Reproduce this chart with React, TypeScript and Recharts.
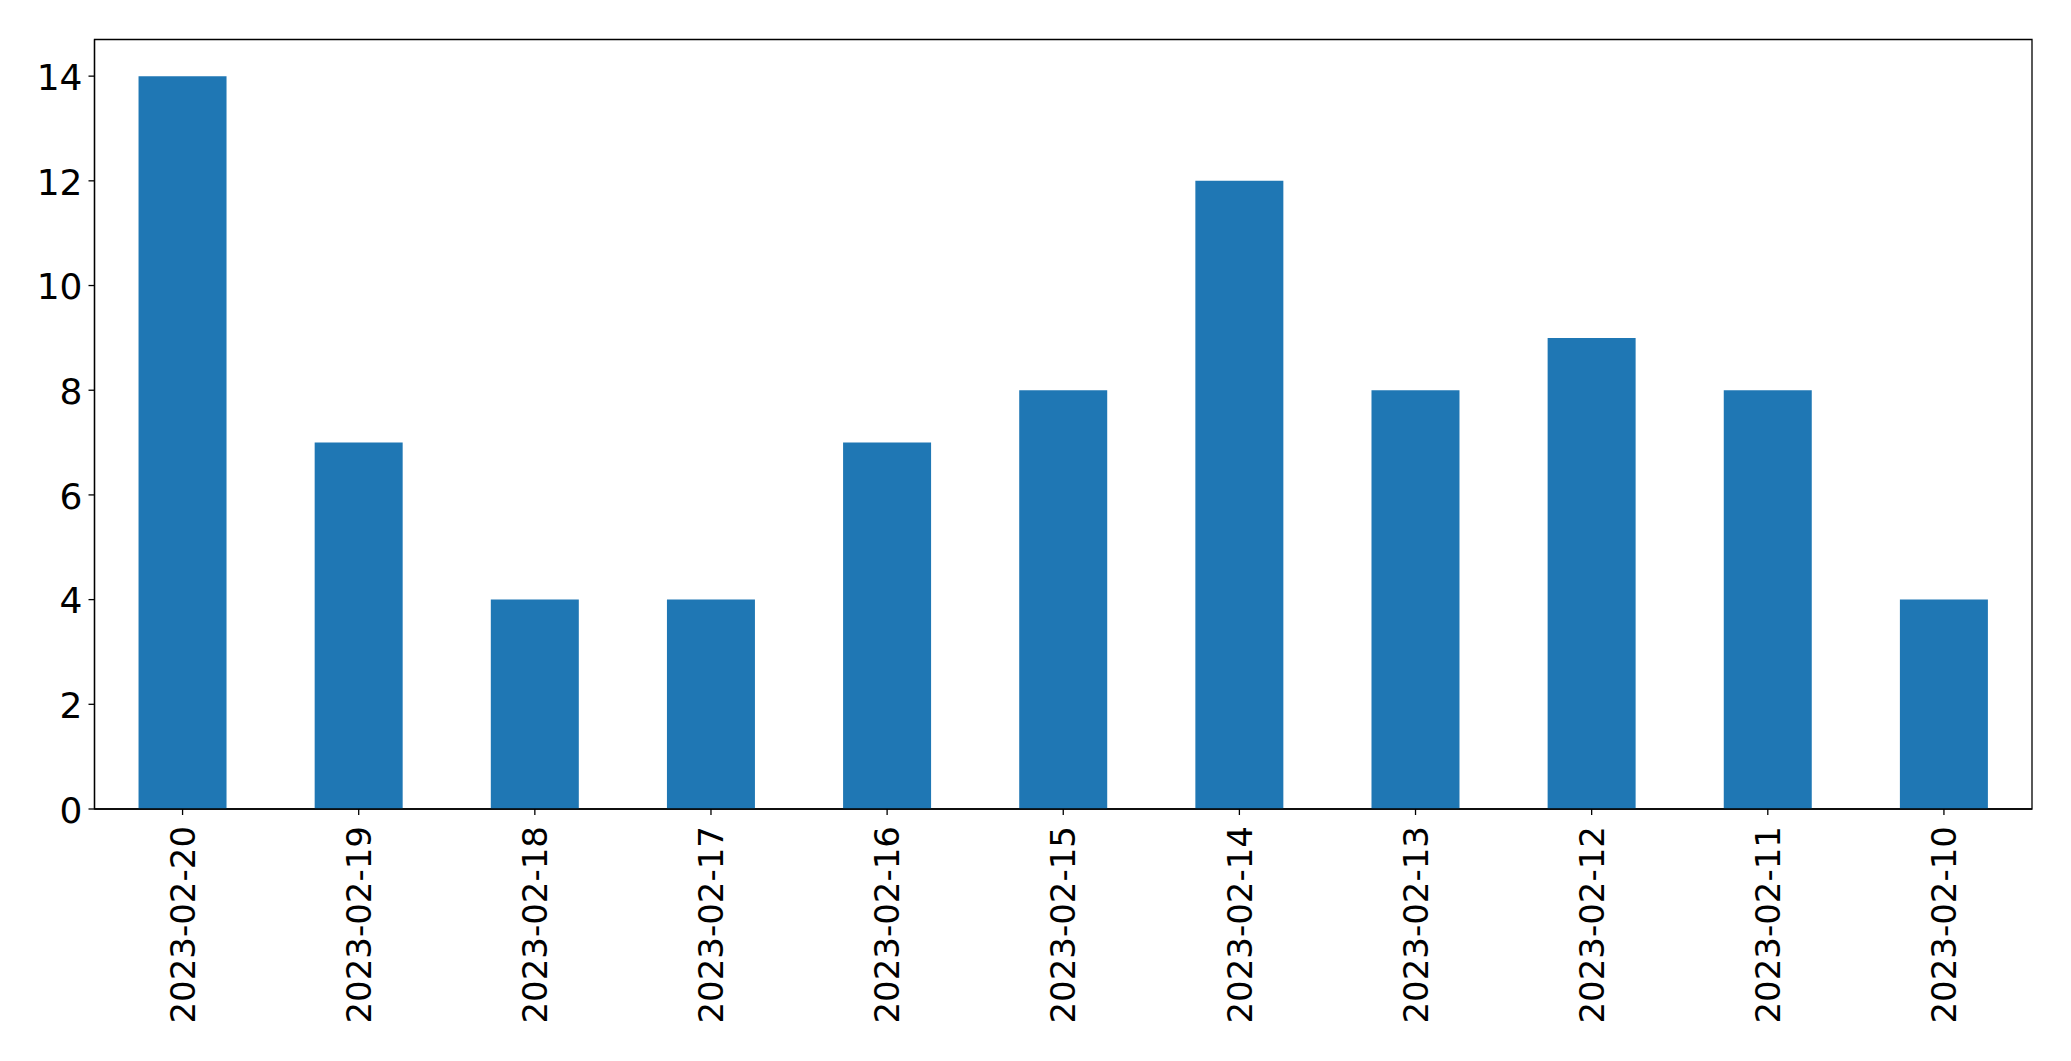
import React from 'react';
import { BarChart, Bar, XAxis, YAxis, ReferenceArea } from 'recharts';

const categories = ['2023-02-20', '2023-02-19', '2023-02-18', '2023-02-17', '2023-02-16', '2023-02-15', '2023-02-14', '2023-02-13', '2023-02-12', '2023-02-11', '2023-02-10'];
const counts = [14, 7, 4, 4, 7, 8, 12, 8, 9, 8, 4];
const yTicks = [0, 2, 4, 6, 8, 10, 12, 14];
const yMax = 14.7;

const data = categories.map((c, i) => ({ date: c, count: counts[i] }));

const FONT = 'DejaVu Sans';

const RotatedTick = (props: any) => {
  const { x, y, payload } = props;
  return (
    <text
      x={x}
      y={y}
      transform={`rotate(-90, ${x}, ${y})`}
      textAnchor="end"
      dy="0.36em"
      fontFamily={FONT}
      fontSize={34}
      fill="#000"
    >
      {payload.value}
    </text>
  );
};

const YTick = (props: any) => {
  const { x, y, payload } = props;
  return (
    <text x={x} y={y} textAnchor="end" dy="0.38em" fontFamily={FONT} fontSize={36} fill="#000">
      {payload.value}
    </text>
  );
};

export default function App() {
  return (
    <div style={{ position: 'absolute', left: 0, top: 0, background: '#fff' }}>
      <BarChart
        width={2071}
        height={1061}
        data={data}
        margin={{ top: 39.5, right: 39, left: 0, bottom: 0 }}
        barCategoryGap="25%"
      >
        <XAxis
          dataKey="date"
          interval={0}
          height={252}
          tickSize={6}
          tickMargin={11}
          tick={<RotatedTick />}
          stroke="#000"
          axisLine={{ stroke: '#000', strokeWidth: 1.3 }}
          tickLine={{ stroke: '#000', strokeWidth: 1.3 }}
        />
        <YAxis
          width={94.5}
          domain={[0, yMax]}
          ticks={yTicks}
          tickSize={6}
          tickMargin={6}
          interval={0}
          stroke="#000"
          tick={<YTick />}
          axisLine={{ stroke: '#000', strokeWidth: 1.3 }}
          tickLine={{ stroke: '#000', strokeWidth: 1.3 }}
        />
        <Bar dataKey="count" fill="#1f77b4" isAnimationActive={false} />
        <ReferenceArea y1={0} y2={yMax} fill="none" fillOpacity={0} stroke="#000" strokeWidth={1.3} strokeOpacity={1} />
      </BarChart>
    </div>
  );
}
